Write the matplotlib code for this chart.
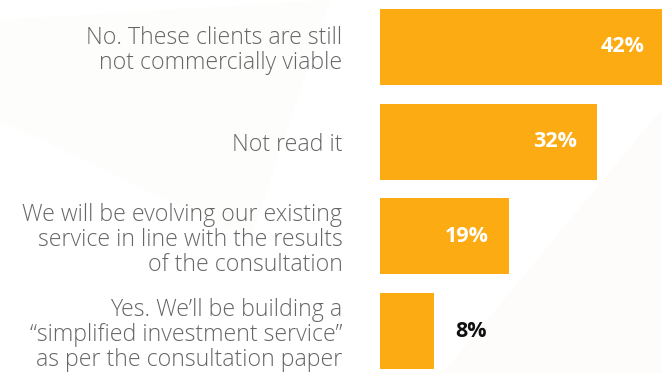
import matplotlib
matplotlib.use("Agg")
import matplotlib.pyplot as plt
from matplotlib.patches import Polygon

# Survey responses and their shares (%)
categories = [
    "No. These clients are still\nnot commercially viable",
    "Not read it",
    "We will be evolving our existing\nservice in line with the results\nof the consultation",
    "Yes. We\u2019ll be building a\n\u201csimplified investment service\u201d\nas per the consultation paper",
]
values = [42, 32, 19, 8]
value_labels = ["42%", "32%", "19%", "8%"]

BAR_COLOR = "#FCAC12"
LABEL_COLOR = "#666666"
FONT = ["Open Sans", "DejaVu Sans"]

W, H = 662, 373
fig = plt.figure(figsize=(W / 100, H / 100), dpi=100)
fig.patch.set_facecolor("white")

# faint decorative background wedges
bg = fig.add_axes([0, 0, 1, 1])
bg.set_xlim(0, W)
bg.set_ylim(H, 0)
bg.axis("off")
bg.add_patch(Polygon([(443, 373), (662, 373), (662, 109)], closed=True,
                     facecolor="#fdfcfa", edgecolor="none"))
bg.add_patch(Polygon([(0, 20), (330, 0), (250, 240), (0, 120)], closed=True,
                     facecolor="#fdfdfc", edgecolor="none"))

ax = fig.add_axes([380 / W, 4 / H, 282 / W, 360 / H])
ax.patch.set_alpha(0)
ypos = list(range(len(values)))
ax.barh(ypos, values, height=0.8, color=BAR_COLOR, clip_on=True)
ax.set_xlim(0, 41.5)
ax.set_ylim(3.4, -0.4)

ax.set_yticks(ypos)
ax.set_yticklabels(categories, fontsize=16.7, color=LABEL_COLOR,
                   family=FONT, fontweight="light", linespacing=1.06)
ax.tick_params(axis="y", length=0, pad=27)
ax.set_xticks([])
for s in ax.spines.values():
    s.set_visible(False)

for y, v, lab in zip(ypos, values, value_labels):
    if v >= 15:
        ax.annotate(lab, xy=(v, y), xytext=(-15, 0), textcoords="offset points",
                    ha="right", va="center", color="white", fontsize=15.5,
                    fontweight="bold", family=FONT, annotation_clip=False)
    else:
        ax.annotate(lab, xy=(v, y), xytext=(15, 0), textcoords="offset points",
                    ha="left", va="center", color="#111111", fontsize=15.5,
                    fontweight="bold", family=FONT)

fig.savefig("out.png", dpi=100)
